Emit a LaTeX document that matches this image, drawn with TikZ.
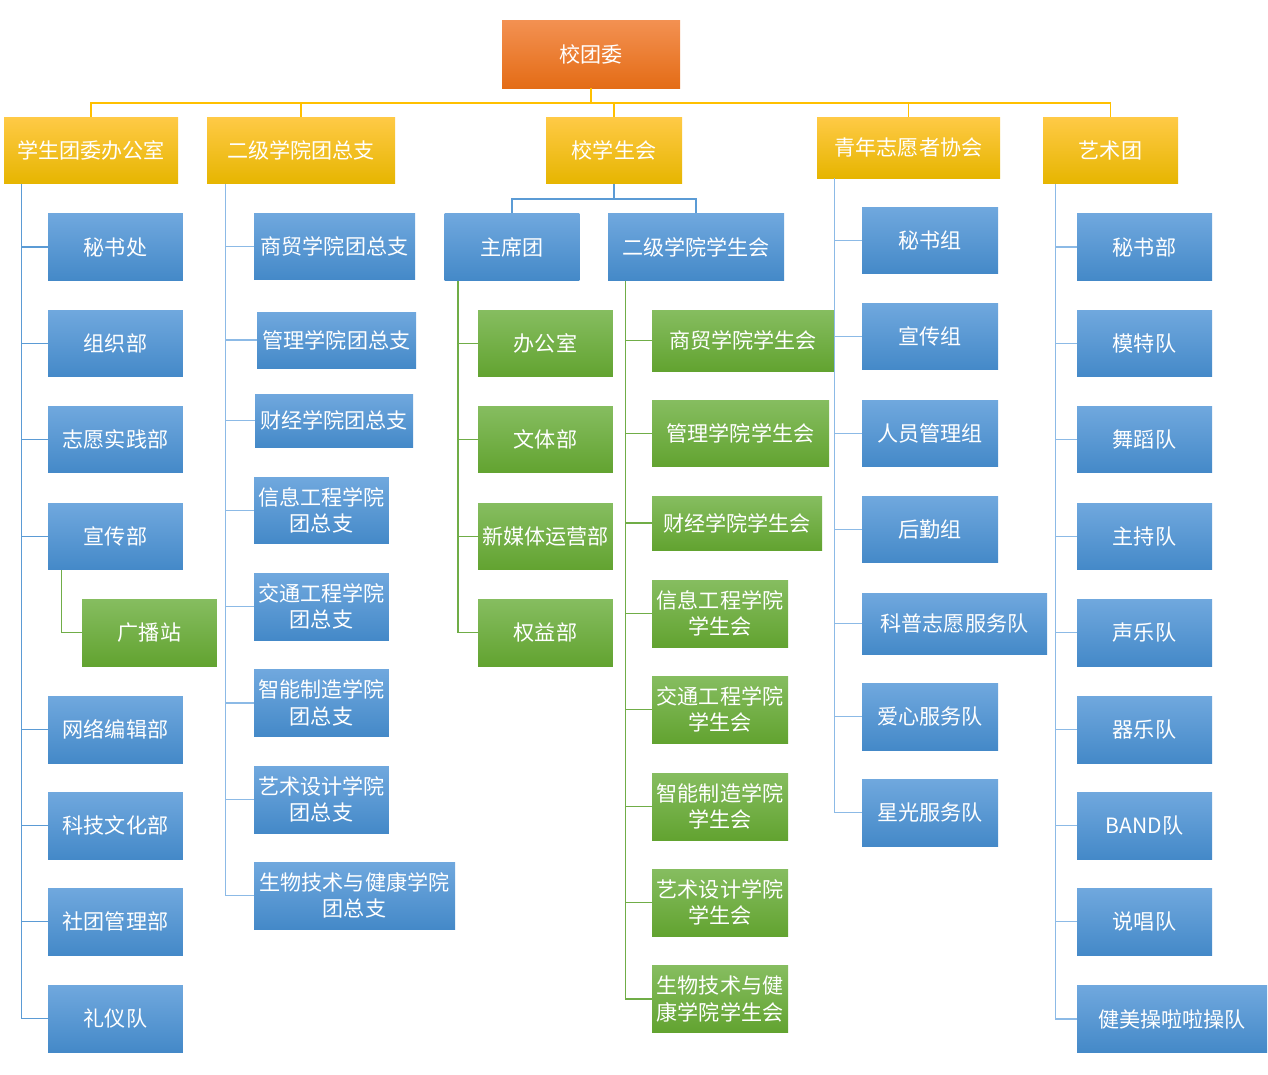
\documentclass[tikz,border=0pt]{standalone}
\usepackage{fontspec}
\setmainfont{Noto Sans CJK SC}
\usetikzlibrary{positioning}

\definecolor{OrangeTop}{RGB}{243,145,82}
\definecolor{OrangeBot}{RGB}{228,108,22}
\definecolor{YellowTop}{RGB}{255,202,70}
\definecolor{YellowMid}{RGB}{255,193,0}
\definecolor{YellowBot}{RGB}{230,181,0}
\definecolor{BlueTop}{RGB}{112,168,222}
\definecolor{BlueMid}{RGB}{88,157,222}
\definecolor{BlueBot}{RGB}{68,137,200}
\definecolor{GreenTop}{RGB}{134,189,96}
\definecolor{GreenBot}{RGB}{98,163,48}
\definecolor{LineYellow}{RGB}{255,192,0}
\definecolor{LineBlue}{RGB}{91,155,213}
\definecolor{LineBlueLight}{RGB}{140,186,230}
\definecolor{LineGreen}{RGB}{112,173,71}

\begin{document}
\begin{tikzpicture}[
    x=0.02cm, y=-0.02cm,
    base/.style={minimum width=2.7cm, minimum height=1.34cm, inner sep=0pt,
      text=white, font=\fontsize{12}{15}\selectfont, align=center},
    wd/.style={minimum width=#1*0.02cm},
    ht/.style={minimum height=#1*0.02cm},
    orangebox/.style={base, top color=OrangeTop, bottom color=OrangeBot},
    yellowbox/.style={base, top color=YellowTop, middle color=YellowMid, bottom color=YellowBot},
    bluebox/.style={base, top color=BlueTop, middle color=BlueMid, bottom color=BlueBot},
    greenbox/.style={base, top color=GreenTop, bottom color=GreenBot},
    yline/.style={LineYellow, line width=0.9pt},
    bline/.style={LineBlue, line width=0.9pt},
    lbline/.style={LineBlueLight, line width=0.9pt},
    gline/.style={LineGreen, line width=0.9pt}
  ]
  \useasboundingbox (0,0) rectangle (1268,1075);

  % top
  \node[orangebox, wd=178, ht=68] (top) at (591,54) {校团委};

  % level 1
  \node[yellowbox, wd=174] (office) at (91,150.5) {学生团委办公室};
  \node[yellowbox, wd=188] (college) at (301,150.5) {二级学院团总支};
  \node[yellowbox, wd=136] (union) at (614,150.5) {校学生会};
  \node[yellowbox, wd=183, ht=61] (volunteer) at (908.5,147.5) {青年志愿者协会};
  \node[yellowbox, wd=135] (art) at (1110.5,150.5) {艺术团};

  \coordinate (bus) at (591,103);
  \draw[yline] (top.south) -- (bus);
  \draw[yline] (office.north) |- (bus) -| (art.north);
  \draw[yline] (college.north) -- (college.north |- bus);
  \draw[yline] (union.north) -- (union.north |- bus);
  \draw[yline] (volunteer.north) -- (volunteer.north |- bus);

  % 学生团委办公室
  \node[bluebox] (off1) at (115.5,247) {秘书处};
  \node[bluebox] (off2) at (115.5,343.5) {组织部};
  \node[bluebox] (off3) at (115.5,439.5) {志愿实践部};
  \node[bluebox] (off4) at (115.5,536.5) {宣传部};
  \node[greenbox] (bcast) at (149.5,632.5) {广播站};
  \node[bluebox] (off5) at (115.5,729.5) {网络编辑部};
  \node[bluebox] (off6) at (115.5,825.5) {科技文化部};
  \node[bluebox] (off7) at (115.5,921.5) {社团管理部};
  \node[bluebox] (off8) at (115.5,1018.5) {礼仪队};

  \coordinate (railA) at ([xshift=0.36cm]office.south west);
  \draw[bline] (railA) |- (off8.west);
  \draw[bline] (railA |- off1.west) -- (off1.west) (railA |- off2.west) -- (off2.west)
    (railA |- off3.west) -- (off3.west) (railA |- off4.west) -- (off4.west)
    (railA |- off5.west) -- (off5.west) (railA |- off6.west) -- (off6.west)
    (railA |- off7.west) -- (off7.west);
  \draw[gline] ([xshift=0.28cm]off4.south west) |- (bcast.west);

  % 二级学院团总支
  \node[bluebox, wd=161] (col1) at (334.5,246.5) {商贸学院团总支};
  \node[bluebox, wd=159, ht=56] (col2) at (336.5,340) {管理学院团总支};
  \node[bluebox, wd=158, ht=53] (col3) at (334,420.5) {财经学院团总支};
  \node[bluebox] (col4) at (321.5,510.5) {信息工程学院\\团总支};
  \node[bluebox] (col5) at (321.5,606.5) {交通工程学院\\团总支};
  \node[bluebox] (col6) at (321.5,703) {智能制造学院\\团总支};
  \node[bluebox] (col7) at (321.5,799.5) {艺术设计学院\\团总支};
  \node[bluebox, wd=201] (col8) at (354.5,895.5) {生物技术与健康学院\\团总支};

  \coordinate (railB) at ([xshift=0.38cm]college.south west);
  \draw[lbline] (railB) |- (col8.west);
  \draw[lbline] (railB |- col1.west) -- (col1.west) (railB |- col2.west) -- (col2.west)
    (railB |- col3.west) -- (col3.west) (railB |- col4.west) -- (col4.west)
    (railB |- col5.west) -- (col5.west) (railB |- col6.west) -- (col6.west)
    (railB |- col7.west) -- (col7.west);

  % 校学生会
  \node[bluebox] (chair) at (512,247) {主席团};
  \node[bluebox, wd=176] (sub) at (696,247) {二级学院学生会};

  \coordinate (busC) at (614,199);
  \draw[bline] (union.south) -- (busC);
  \draw[bline] (chair.north) |- (busC) -| (sub.north);

  \node[greenbox] (chair1) at (545.5,343.5) {办公室};
  \node[greenbox] (chair2) at (545.5,439.5) {文体部};
  \node[greenbox] (chair3) at (545.5,536.5) {新媒体运营部};
  \node[greenbox] (chair4) at (545.5,632.5) {权益部};

  \coordinate (railC) at ([xshift=0.28cm]chair.south west);
  \draw[gline] (railC) |- (chair4.west);
  \draw[gline] (railC |- chair1.west) -- (chair1.west)
    (railC |- chair2.west) -- (chair2.west) (railC |- chair3.west) -- (chair3.west);

  \node[greenbox, wd=182, ht=61] (sub1) at (743,340.5) {商贸学院学生会};
  \node[greenbox, wd=177] (sub2) at (740.5,433.5) {管理学院学生会};
  \node[greenbox, wd=170, ht=54] (sub3) at (737,523) {财经学院学生会};
  \node[greenbox, wd=136] (sub4) at (720,613.5) {信息工程学院\\学生会};
  \node[greenbox, wd=136] (sub5) at (720,709.5) {交通工程学院\\学生会};
  \node[greenbox, wd=136] (sub6) at (720,806.5) {智能制造学院\\学生会};
  \node[greenbox, wd=136] (sub7) at (720,902.5) {艺术设计学院\\学生会};
  \node[greenbox, wd=136] (sub8) at (720,999) {生物技术与健\\康学院学生会};

  \coordinate (railD) at ([xshift=0.36cm]sub.south west);
  \draw[gline] (railD) |- (sub8.west);
  \draw[gline] (railD |- sub1.west) -- (sub1.west) (railD |- sub2.west) -- (sub2.west)
    (railD |- sub3.west) -- (sub3.west) (railD |- sub4.west) -- (sub4.west)
    (railD |- sub5.west) -- (sub5.west) (railD |- sub6.west) -- (sub6.west)
    (railD |- sub7.west) -- (sub7.west);

  % 青年志愿者协会
  \node[bluebox, wd=136] (vol1) at (930,240.5) {秘书组};
  \node[bluebox, wd=136] (vol2) at (930,336.5) {宣传组};
  \node[bluebox, wd=136] (vol3) at (930,433.5) {人员管理组};
  \node[bluebox, wd=136] (vol4) at (930,529.5) {后勤组};
  \node[bluebox, wd=185, ht=61] (vol5) at (954.5,623.5) {科普志愿服务队};
  \node[bluebox, wd=136] (vol6) at (930,716.5) {爱心服务队};
  \node[bluebox, wd=136] (vol7) at (930,812.5) {星光服务队};

  \coordinate (railE) at ([xshift=0.36cm]volunteer.south west);
  \draw[lbline] (railE) |- (vol7.west);
  \draw[lbline] (railE |- vol1.west) -- (vol1.west) (railE |- vol2.west) -- (vol2.west)
    (railE |- vol3.west) -- (vol3.west) (railE |- vol4.west) -- (vol4.west)
    (railE |- vol5.west) -- (vol5.west) (railE |- vol6.west) -- (vol6.west);

  % 艺术团
  \node[bluebox] (art1) at (1144.5,247) {秘书部};
  \node[bluebox] (art2) at (1144.5,343.5) {模特队};
  \node[bluebox] (art3) at (1144.5,439.5) {舞蹈队};
  \node[bluebox] (art4) at (1144.5,536.5) {主持队};
  \node[bluebox] (art5) at (1144.5,632.5) {声乐队};
  \node[bluebox] (art6) at (1144.5,729.5) {器乐队};
  \node[bluebox] (art7) at (1144.5,825.5) {BAND队};
  \node[bluebox] (art8) at (1144.5,921.5) {说唱队};
  \node[bluebox, wd=190] (art9) at (1172,1019) {健美操啦啦操队};

  \coordinate (railF) at ([xshift=0.26cm]art.south west);
  \draw[lbline] (railF) |- (art9.west);
  \draw[lbline] (railF |- art1.west) -- (art1.west) (railF |- art2.west) -- (art2.west)
    (railF |- art3.west) -- (art3.west) (railF |- art4.west) -- (art4.west)
    (railF |- art5.west) -- (art5.west) (railF |- art6.west) -- (art6.west)
    (railF |- art7.west) -- (art7.west) (railF |- art8.west) -- (art8.west);
\end{tikzpicture}
\end{document}
